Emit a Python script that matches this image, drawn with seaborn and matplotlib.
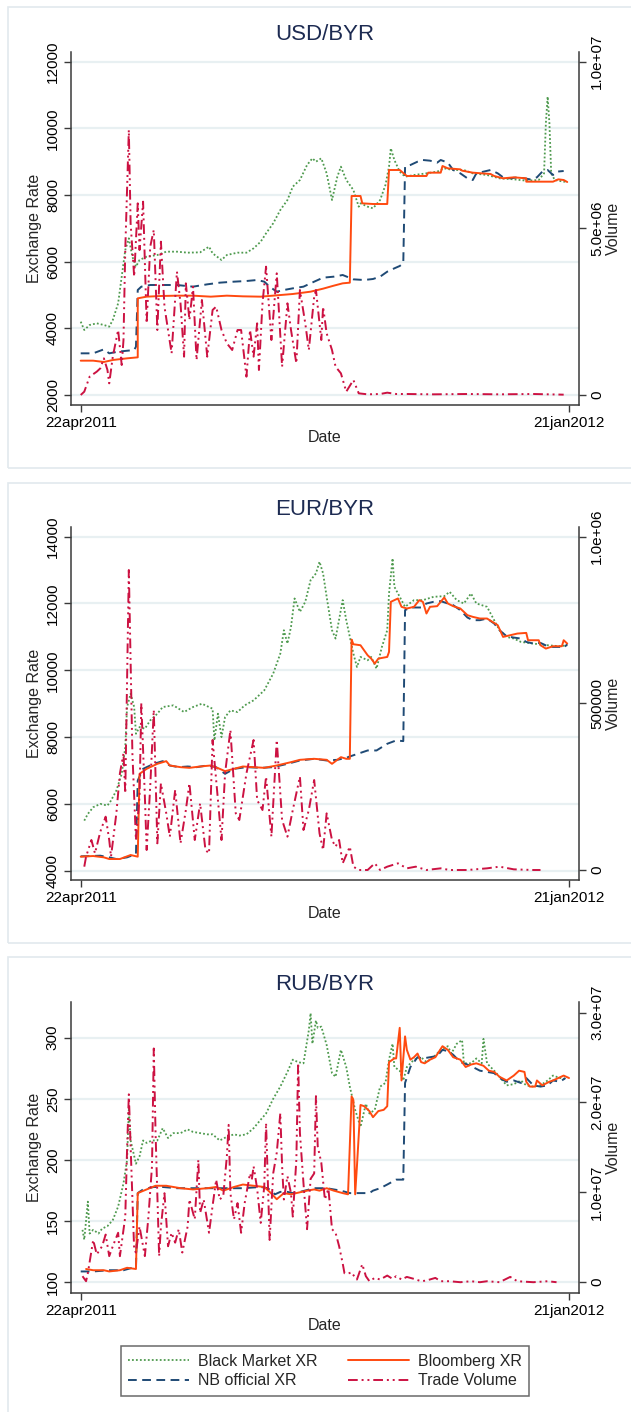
import numpy as np
import pandas as pd
import matplotlib
matplotlib.use('Agg')
import matplotlib.pyplot as plt
import matplotlib.dates as mdates
from matplotlib.lines import Line2D
from matplotlib.patches import Rectangle
import seaborn as sns

start = pd.Timestamp('2011-04-22')
end = pd.Timestamp('2012-01-21')

# ---- USD/BYR ----
usd_bm_days = [0, 2, 5, 9, 13, 16, 18, 21, 23, 25, 27, 29, 31, 33, 37, 43, 48, 54, 60, 67, 72, 74, 79, 82, 88, 93, 97, 101, 104, 108, 112, 116, 119, 123, 127, 130, 132, 135, 138, 141, 144, 146, 149, 153, 156, 157, 161, 164, 168, 171, 173, 174, 176, 179, 182, 187, 194, 200, 204, 209, 215, 220, 228, 235, 243, 250, 257, 260, 261, 262, 263, 264, 266, 271, 273]
usd_bm = [4200, 3950, 4100, 4150, 4100, 4050, 4250, 4750, 5550, 6350, 6700, 6150, 5850, 6050, 6150, 6200, 6300, 6300, 6270, 6280, 6450, 6250, 6050, 6200, 6270, 6270, 6400, 6600, 6850, 7150, 7550, 7850, 8250, 8450, 8900, 9100, 9000, 9100, 8650, 7850, 8550, 8850, 8450, 8150, 7650, 7750, 7650, 7600, 7850, 8300, 8850, 9400, 9050, 8700, 8550, 8600, 8650, 8700, 8800, 8750, 8750, 8650, 8600, 8500, 8470, 8430, 8450, 8650, 10150, 10950, 10150, 8650, 8450, 8400, 8400]

usd_nb_days = [0, 7, 13, 16, 21, 30, 31, 32, 34, 39, 45, 54, 63, 71, 78, 86, 93, 99, 103, 106, 110, 114, 119, 125, 131, 136, 142, 147, 153, 159, 164, 168, 172, 176, 179, 181, 182, 185, 189, 192, 196, 200, 202, 206, 209, 213, 217, 220, 222, 226, 230, 234, 237, 241, 245, 249, 252, 256, 259, 262, 265, 267, 271]
usd_nb = [3250, 3250, 3370, 3250, 3300, 3350, 3450, 5150, 5250, 5300, 5300, 5300, 5250, 5320, 5370, 5400, 5420, 5450, 5400, 5250, 5100, 5150, 5200, 5250, 5400, 5520, 5550, 5600, 5470, 5450, 5480, 5550, 5700, 5800, 5870, 5950, 8850, 8900, 9000, 9050, 9030, 8970, 9050, 8970, 8750, 8650, 8500, 8450, 8650, 8700, 8750, 8650, 8530, 8500, 8530, 8500, 8470, 8530, 8700, 8750, 8600, 8700, 8720]

usd_bb_days = [0, 7, 13, 18, 26, 32, 32, 37, 45, 54, 63, 73, 82, 91, 101, 110, 119, 129, 136, 142, 147, 151, 152, 157, 158, 164, 172, 173, 179, 183, 194, 195, 202, 203, 206, 213, 214, 220, 230, 232, 237, 243, 250, 250, 265, 268, 271, 273]
usd_bb = [3030, 3030, 2990, 3050, 3100, 3130, 4900, 4950, 4970, 4980, 4980, 4950, 4980, 4960, 4950, 4990, 5030, 5100, 5190, 5280, 5350, 5370, 7970, 7970, 7750, 7730, 7730, 8750, 8750, 8570, 8570, 8670, 8670, 8870, 8800, 8770, 8730, 8670, 8630, 8570, 8500, 8530, 8500, 8400, 8400, 8470, 8450, 8390]

usd_vol_days = [0, 2, 5, 9, 11, 13, 15, 16, 18, 21, 23, 24, 25, 27, 28, 30, 32, 33, 35, 37, 39, 41, 43, 45, 47, 51, 54, 56, 58, 59, 61, 63, 65, 68, 71, 74, 76, 79, 82, 85, 88, 90, 93, 95, 97, 99, 100, 102, 104, 107, 110, 113, 116, 118, 121, 123, 126, 128, 131, 132, 135, 136, 138, 141, 143, 146, 149, 153, 156, 161, 168, 172, 177, 183, 198, 217, 235, 254, 271]
usd_vol = [0.0, 0.1, 0.55, 0.7, 0.8, 1.1, 0.75, 0.35, 1.15, 1.95, 0.9, 1.65, 4.35, 7.95, 5.15, 3.55, 5.75, 4.35, 5.8, 2.15, 4.45, 4.95, 1.95, 4.6, 2.65, 1.25, 3.7, 2.75, 1.15, 3.35, 2.25, 3.25, 1.05, 2.85, 1.15, 2.55, 2.65, 1.95, 1.55, 1.35, 1.95, 1.95, 0.55, 1.95, 1.15, 2.15, 0.75, 2.75, 3.85, 1.65, 3.65, 0.85, 2.75, 1.95, 0.95, 3.15, 2.15, 1.35, 2.95, 3.15, 1.65, 2.65, 1.85, 1.35, 0.85, 0.65, 0.1, 0.45, 0.05, 0.02, 0.03, 0.07, 0.03, 0.03, 0.02, 0.03, 0.02, 0.03, 0.01]

# ---- EUR/BYR ----
eur_bm_days = [2, 4, 7, 11, 15, 17, 20, 23, 25, 26, 28, 30, 31, 33, 36, 39, 43, 46, 52, 58, 63, 68, 74, 75, 77, 79, 81, 84, 88, 92, 97, 103, 108, 112, 114, 116, 118, 120, 123, 126, 129, 132, 134, 136, 138, 141, 143, 147, 149, 153, 155, 157, 161, 163, 166, 169, 172, 173, 175, 176, 179, 182, 187, 192, 198, 204, 207, 211, 215, 219, 222, 228, 232, 235, 239, 243, 247, 254, 262, 269, 273]
eur_bm = [5500, 5700, 5900, 6000, 5950, 6100, 6400, 6900, 7700, 8900, 9300, 8900, 8100, 8300, 8250, 8500, 8700, 8900, 8950, 8750, 8900, 9000, 8850, 7900, 8700, 8000, 8600, 8800, 8750, 8950, 9100, 9400, 9900, 10500, 11200, 10800, 11300, 12150, 11750, 12050, 12700, 12900, 13250, 12900, 12200, 11200, 10950, 12100, 11500, 10500, 10100, 10400, 10300, 10400, 10050, 10700, 11200, 12300, 13350, 12500, 12200, 11900, 12100, 12100, 12200, 12220, 12350, 12100, 12000, 12300, 12000, 11900, 11500, 11200, 11000, 10950, 10850, 10800, 10750, 10720, 10750]

eur_nb_days = [0, 11, 16, 20, 26, 31, 32, 35, 41, 46, 50, 55, 60, 65, 71, 76, 81, 86, 93, 101, 108, 116, 123, 131, 138, 144, 149, 151, 161, 166, 172, 177, 181, 182, 185, 191, 194, 198, 202, 206, 209, 213, 217, 220, 224, 228, 232, 235, 239, 243, 247, 250, 254, 258, 262, 265, 269, 271, 273]
eur_nb = [4430, 4450, 4400, 4350, 4400, 4500, 6700, 7050, 7200, 7280, 7150, 7100, 7120, 7100, 7150, 7100, 6900, 7050, 7100, 7080, 7100, 7200, 7300, 7350, 7300, 7320, 7380, 7420, 7600, 7600, 7800, 7900, 7880, 11800, 11880, 11880, 12000, 12050, 12070, 12000, 11950, 11800, 11580, 11500, 11500, 11550, 11400, 11200, 11020, 10980, 10950, 10850, 10800, 10820, 10720, 10700, 10700, 10670, 10780]

eur_bb_days = [0, 7, 13, 16, 22, 28, 32, 33, 37, 43, 48, 50, 56, 61, 67, 73, 78, 81, 86, 91, 97, 103, 110, 118, 123, 131, 138, 141, 146, 149, 151, 152, 153, 157, 161, 163, 165, 167, 172, 173, 174, 178, 180, 183, 187, 190, 192, 194, 196, 200, 204, 206, 209, 213, 217, 220, 224, 228, 231, 234, 237, 241, 245, 250, 251, 257, 258, 261, 265, 270, 271, 273]
eur_bb = [4420, 4440, 4400, 4350, 4350, 4470, 4420, 6900, 7050, 7200, 7280, 7150, 7100, 7080, 7120, 7150, 7050, 6980, 7050, 7120, 7100, 7080, 7150, 7250, 7320, 7350, 7320, 7200, 7400, 7350, 7350, 10920, 10780, 10750, 10450, 10350, 10200, 10350, 10400, 10550, 12050, 12150, 11900, 11850, 11900, 12100, 12050, 11700, 11900, 11920, 12180, 12000, 11920, 11850, 11650, 11600, 11550, 11550, 11450, 11350, 11000, 11050, 11100, 11120, 10900, 10900, 10750, 10650, 10720, 10720, 10900, 10800]

eur_vol_days = [2, 3, 6, 8, 11, 14, 16, 17, 20, 22, 24, 25, 27, 29, 31, 33, 34, 36, 37, 39, 41, 43, 45, 48, 50, 53, 56, 59, 61, 64, 67, 70, 72, 74, 76, 79, 81, 84, 87, 89, 93, 97, 99, 102, 104, 107, 110, 113, 116, 119, 123, 125, 128, 131, 134, 136, 138, 141, 143, 145, 147, 151, 153, 156, 161, 165, 168, 172, 178, 183, 188, 194, 202, 207, 217, 228, 235, 243, 254, 258]
eur_vol = [10, 40, 90, 50, 115, 160, 90, 40, 170, 290, 350, 230, 900, 350, 90, 220, 500, 220, 60, 250, 480, 80, 260, 170, 100, 240, 80, 180, 260, 90, 200, 60, 50, 390, 270, 90, 290, 420, 170, 150, 290, 390, 210, 180, 280, 100, 390, 150, 100, 180, 280, 120, 180, 270, 110, 60, 170, 90, 70, 90, 20, 70, 10, 0, 0, 20, 0, 10, 20, 5, 10, 0, 5, 0, 0, 5, 10, 2, 0, 0]

# ---- RUB/BYR ----
rub_bm_days = [1, 2, 4, 5, 7, 10, 12, 15, 18, 21, 24, 26, 27, 28, 31, 33, 35, 37, 40, 43, 46, 49, 52, 56, 60, 63, 67, 71, 74, 78, 82, 86, 89, 93, 97, 101, 104, 108, 112, 116, 119, 122, 125, 128, 129, 130, 132, 133, 135, 138, 141, 143, 146, 149, 151, 154, 157, 160, 162, 165, 168, 171, 173, 175, 176, 179, 181, 183, 187, 191, 194, 198, 202, 206, 208, 211, 214, 215, 219, 222, 225, 226, 228, 232, 235, 239, 243, 247, 250, 254, 258, 262, 265, 269, 273]
rub_bm = [143, 135, 166, 140, 143, 140, 144, 146, 151, 162, 181, 200, 241, 216, 197, 203, 216, 214, 216, 216, 226, 218, 222, 222, 225, 223, 222, 221, 221, 216, 219, 221, 220, 221, 226, 233, 238, 250, 260, 272, 282, 280, 279, 306, 320, 295, 314, 308, 309, 294, 271, 268, 290, 276, 260, 241, 227, 246, 238, 241, 260, 263, 282, 295, 276, 273, 265, 276, 282, 284, 280, 284, 290, 293, 287, 295, 298, 279, 279, 283, 279, 299, 279, 273, 268, 261, 262, 265, 261, 260, 261, 265, 269, 267, 266]

rub_nb_days = [0, 7, 16, 24, 29, 31, 32, 35, 41, 46, 54, 63, 73, 82, 91, 101, 105, 109, 112, 116, 119, 123, 131, 138, 146, 151, 157, 162, 164, 168, 172, 177, 181, 182, 185, 189, 192, 196, 200, 203, 206, 209, 213, 217, 220, 224, 228, 232, 235, 239, 243, 247, 250, 254, 258, 262, 265, 269, 272]
rub_nb = [109, 109, 110, 110, 112, 112, 173, 176, 178, 178, 177, 177, 177, 177, 177, 178, 177, 172, 174, 174, 173, 174, 177, 177, 175, 173, 173, 173, 175, 177, 180, 184, 184, 263, 276, 284, 283, 284, 285, 290, 289, 286, 280, 278, 276, 273, 272, 271, 267, 264, 265, 263, 267, 261, 260, 261, 265, 264, 267]

rub_bb_days = [3, 7, 13, 16, 22, 26, 31, 32, 37, 42, 48, 56, 63, 71, 76, 80, 86, 91, 97, 103, 106, 110, 114, 118, 121, 127, 131, 134, 138, 142, 147, 150, 152, 153, 154, 155, 157, 159, 162, 164, 167, 170, 172, 173, 176, 177, 179, 180, 182, 183, 185, 187, 189, 191, 193, 196, 199, 203, 206, 209, 213, 216, 219, 222, 226, 229, 232, 235, 239, 243, 246, 249, 250, 252, 255, 256, 259, 263, 265, 271, 274]
rub_bb = [111, 110, 110, 109, 110, 112, 111, 173, 176, 179, 179, 177, 176, 177, 178, 175, 178, 180, 179, 178, 174, 168, 173, 172, 173, 175, 176, 175, 177, 175, 173, 172, 252, 249, 172, 195, 245, 244, 240, 235, 240, 241, 244, 280, 283, 283, 308, 265, 301, 290, 282, 284, 287, 280, 279, 282, 284, 293, 290, 284, 282, 276, 278, 279, 277, 273, 272, 268, 265, 269, 273, 272, 264, 260, 260, 265, 261, 264, 265, 269, 267]

rub_vol_days = [1, 3, 4, 7, 9, 12, 14, 16, 18, 21, 22, 25, 26, 27, 28, 30, 31, 33, 36, 38, 40, 41, 42, 44, 45, 47, 49, 51, 53, 55, 57, 60, 61, 64, 66, 67, 69, 72, 74, 76, 78, 80, 82, 83, 84, 86, 88, 90, 92, 95, 96, 97, 99, 101, 103, 104, 106, 108, 110, 112, 113, 114, 116, 118, 119, 121, 122, 123, 125, 127, 129, 131, 132, 133, 135, 137, 139, 141, 143, 145, 147, 148, 150, 152, 154, 155, 158, 160, 162, 165, 168, 172, 175, 177, 180, 183, 187, 191, 194, 199, 202, 207, 213, 219, 224, 228, 235, 241, 245, 254, 262, 267]
rub_vol = [0.67, 0.11, 1.0, 4.7, 3.1, 4.0, 5.3, 2.9, 4.0, 5.5, 2.9, 7.3, 14.7, 20.9, 15.1, 3.6, 3.3, 6.2, 2.9, 7.3, 12.9, 26.0, 16.6, 2.9, 6.2, 9.9, 4.0, 5.5, 4.4, 5.9, 3.3, 6.2, 9.2, 7.0, 13.6, 7.7, 9.2, 5.5, 8.5, 11.4, 9.2, 9.6, 14.0, 17.5, 9.9, 7.0, 8.8, 5.5, 8.8, 12.1, 11.4, 12.9, 10.4, 6.6, 10.7, 17.7, 4.7, 12.1, 14.4, 18.8, 12.9, 9.2, 11.8, 9.9, 7.3, 13.6, 24.4, 16.6, 11.0, 5.9, 11.5, 12.1, 20.7, 15.1, 13.3, 9.2, 10.4, 5.9, 5.5, 4.0, 2.1, 1.0, 0.96, 1.1, 0.5, 0.3, 2.0, 0.67, 0.11, 0.48, 0.3, 0.74, 0.37, 0.67, 0.3, 0.59, 0.37, 0.11, 0.19, 0.48, 0.11, 0.11, 0.0, 0.11, 0.0, 0.11, 0.0, 0.59, 0.11, 0.0, 0.11, 0.0]

W, H = 631, 1412


def fx(px):
    return px / W


def fy(py):
    return 1 - py / H


def to_dates(days):
    return start + pd.to_timedelta(days, unit='D')


sns.set_theme(style='white')
plt.rcParams['font.family'] = ['Liberation Sans', 'DejaVu Sans']

c_bm = '#4e9a4e'
c_nb = '#1f4a75'
c_bb = '#ff4a10'
c_vol = '#cc1242'
ls_bm = (0, (1, 1.2))
ls_nb = (0, (4.5, 2.8))
ls_vol = (0, (5, 2, 1, 2, 1, 2))

fig = plt.figure(figsize=(W / 100, H / 100), dpi=100)

panels = [
    dict(title='USD/BYR', top=52, bottom=405, title_y=35, date_y=438,
         bm=(usd_bm_days, usd_bm), nb=(usd_nb_days, usd_nb), bb=(usd_bb_days, usd_bb),
         vol=(usd_vol_days, [v * 1e6 for v in usd_vol]),
         ylim=(1700, 12290), yticks=[2000, 4000, 6000, 8000, 10000, 12000],
         vlim=(-3.0e5, 1.029e7), vticks=[0, 5e6, 1e7], vlabels=['0', '5.0e+06', '1.0e+07'],
         frame=(8, 7, 468)),
    dict(title='EUR/BYR', top=527, bottom=880, title_y=509, date_y=913,
         bm=(eur_bm_days, eur_bm), nb=(eur_nb_days, eur_nb), bb=(eur_bb_days, eur_bb),
         vol=(eur_vol_days, [v * 1e3 for v in eur_vol]),
         ylim=(3722, 14290), yticks=[4000, 6000, 8000, 10000, 12000, 14000],
         vlim=(-3.0e4, 1.029e6), vticks=[0, 5e5, 1e6], vlabels=['0', '500000', '1.0e+06'],
         frame=(8, 483, 943)),
    dict(title='RUB/BYR', top=1002, bottom=1293, title_y=985, date_y=1325,
         bm=(rub_bm_days, rub_bm), nb=(rub_nb_days, rub_nb), bb=(rub_bb_days, rub_bb),
         vol=(rub_vol_days, [v * 1e6 for v in rub_vol]),
         ylim=(91.4, 329.1), yticks=[100, 150, 200, 250, 300],
         vlim=(-1.2e6, 3.117e7), vticks=[0, 1e7, 2e7, 3e7],
         vlabels=['0', '1.0e+07', '2.0e+07', '3.0e+07'],
         frame=(8, 957, 1425)),
]

ax_left, ax_right = 71, 579
xmin = start - pd.Timedelta(days=5.45)
xmax = end + pd.Timedelta(days=5.6)
spine_c = '#3a3a3a'

for p in panels:
    fl, ft, fb = p['frame']
    fig.patches.append(Rectangle((fx(fl), fy(fb)), fx(660) - fx(fl), (fb - ft) / H,
                                 transform=fig.transFigure, fill=False,
                                 edgecolor='#e2e9ed', linewidth=1.2))

    ax = fig.add_axes([fx(ax_left), fy(p['bottom']), fx(ax_right - ax_left),
                       (p['bottom'] - p['top']) / H])
    ax2 = ax.twinx()

    for yv in p['yticks']:
        ax.axhline(yv, color='#e8f0f2', linewidth=1.6, zorder=0)

    d, v = p['bm']
    sns.lineplot(x=to_dates(d), y=v, ax=ax, color=c_bm, linewidth=1.3, linestyle=ls_bm,
                 estimator=None, sort=False, legend=False)
    d, v = p['nb']
    sns.lineplot(x=to_dates(d), y=v, ax=ax, color=c_nb, linewidth=1.4, linestyle=ls_nb,
                 estimator=None, sort=False, legend=False)
    d, v = p['bb']
    sns.lineplot(x=to_dates(d), y=v, ax=ax, color=c_bb, linewidth=1.4, linestyle='-',
                 estimator=None, sort=False, legend=False)
    d, v = p['vol']
    sns.lineplot(x=to_dates(d), y=v, ax=ax2, color=c_vol, linewidth=1.4, linestyle=ls_vol,
                 estimator=None, sort=False, legend=False)

    ax.set_xlim(xmin, xmax)
    ax.set_ylim(*p['ylim'])
    ax2.set_ylim(*p['vlim'])
    ax.set_yticks(p['yticks'])
    ax.set_yticklabels([str(t) for t in p['yticks']], rotation=90, va='center', fontsize=11)
    ax2.set_yticks(p['vticks'])
    ax2.set_yticklabels(p['vlabels'], rotation=90, va='center', fontsize=11)
    ax.set_xticks([start, end])
    ax.set_xticklabels(['22apr2011', '21jan2012'], fontsize=11)
    ax.set_xlabel('')
    ax.set_ylabel('')
    ax2.set_ylabel('')
    ax.grid(False)
    ax2.grid(False)

    for a in (ax, ax2):
        for s in a.spines.values():
            s.set_color(spine_c)
            s.set_linewidth(1.1)
        a.spines['top'].set_visible(False)
    ax.spines['right'].set_visible(False)
    ax2.spines['left'].set_visible(False)
    ax2.spines['bottom'].set_visible(False)
    ax.tick_params(axis='both', direction='out', length=5, width=1, color=spine_c,
                   pad=3, labelcolor='black', left=True, bottom=True)
    ax2.tick_params(axis='y', direction='out', length=5, width=1, color=spine_c,
                    pad=3, labelcolor='black', right=True)

    fig.text(fx(325), fy(p['title_y']), p['title'], ha='center', va='center',
             fontsize=16, color='#1d2b52')
    fig.text(fx(325), fy(p['date_y']), 'Date', ha='center', va='center', fontsize=11.5)
    mid = (p['top'] + p['bottom']) / 2
    fig.text(fx(34), fy(mid), 'Exchange Rate', ha='center', va='center', rotation=90,
             fontsize=11.5)
    fig.text(fx(613), fy(mid), 'Volume', ha='center', va='center', rotation=90,
             fontsize=11.5)

handles = [
    Line2D([], [], color=c_bm, linewidth=1.3, linestyle=ls_bm),
    Line2D([], [], color=c_nb, linewidth=1.4, linestyle=ls_nb),
    Line2D([], [], color=c_bb, linewidth=1.4, linestyle='-'),
    Line2D([], [], color=c_vol, linewidth=1.4, linestyle=ls_vol),
]
labels = ['Black Market XR', 'NB official XR', 'Bloomberg XR', 'Trade Volume']
leg = fig.legend(handles, labels, loc='center', bbox_to_anchor=(fx(325), fy(1371)),
                 ncol=2, fontsize=11.5, frameon=True, fancybox=False, handlelength=3.8,
                 handletextpad=0.6, columnspacing=1.9, labelspacing=0.3, borderpad=0.45)
leg.get_frame().set_edgecolor('#444444')
leg.get_frame().set_linewidth(1.1)

fig.savefig('out.png', dpi=100)
